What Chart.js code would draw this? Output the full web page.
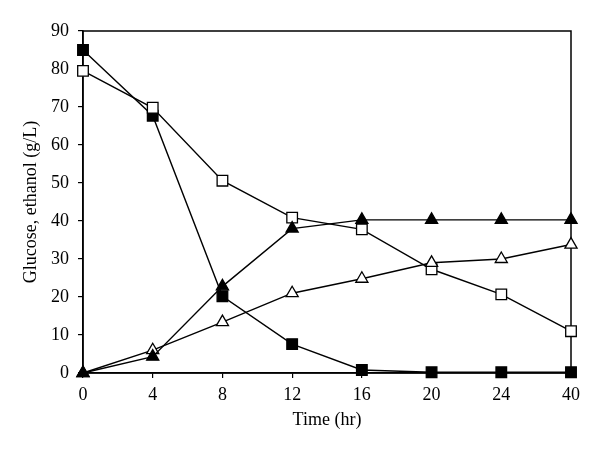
<!DOCTYPE html>
<html>
<head>
<meta charset="utf-8">
<script src="https://cdn.jsdelivr.net/npm/chart.js@4/dist/chart.umd.min.js"></script>
<style>
  html, body { margin: 0; padding: 0; background: #fff; }
  #wrap { width: 600px; height: 453px; }
</style>
</head>
<body>
<div id="wrap"><canvas id="chart" width="600" height="453"></canvas></div>
<script>
// time points (hr), shown as evenly spaced categories
const times = ['0', '4', '8', '12', '16', '20', '24', '40'];
const yTicks = [0, 10, 20, 30, 40, 50, 60, 70, 80, 90];

// glucose (filled / open squares), ethanol (filled / open triangles)
const glucoseA = [85, 67.7, 20.2, 7.6, 0.8, 0.2, 0.2, 0.2];
const glucoseB = [79.5, 69.8, 50.6, 40.9, 37.8, 27.3, 20.7, 11];
const ethanolA = [0, 4.3, 22.8, 38, 40.3, 40.3, 40.3, 40.3];
const ethanolB = [0, 6, 13.4, 21, 24.8, 29, 30, 33.8];

const serif = 'Liberation Serif';

function series(data, style, fill, radius) {
  return {
    data: data,
    borderColor: '#000',
    borderWidth: 1.4,
    pointStyle: style,
    pointRadius: radius,
    pointBackgroundColor: fill,
    pointBorderColor: '#000',
    pointBorderWidth: 1.3,
    tension: 0,
    clip: false
  };
}

// box around the plot (top and right edges)
const frame = {
  id: 'frame',
  beforeDatasetsDraw(chart) {
    const a = chart.chartArea;
    const ctx = chart.ctx;
    ctx.save();
    ctx.strokeStyle = '#000';
    ctx.lineWidth = 1.5;
    ctx.strokeRect(a.left, a.top, a.right - a.left, a.bottom - a.top);
    ctx.restore();
  }
};

// first dataset is drawn on top
new Chart(document.getElementById('chart'), {
  type: 'line',
  data: {
    labels: times,
    datasets: [
      series(ethanolA, 'triangle', '#000', 7),
      series(ethanolB, 'triangle', '#fff', 7),
      series(glucoseB, 'rect', '#fff', 7.5),
      series(glucoseA, 'rect', '#000', 7.5)
    ]
  },
  options: {
    responsive: false,
    animation: false,
    layout: { padding: { top: 31, right: 29, left: 0, bottom: 0 } },
    plugins: { legend: { display: false }, tooltip: { enabled: false } },
    scales: {
      x: {
        offset: false,
        afterFit(s) { s.height = 80; },
        grid: { display: true, drawOnChartArea: false, drawTicks: true, tickLength: 5, color: '#000', lineWidth: 1.2 },
        border: { display: true, color: '#000', width: 1.5 },
        ticks: { color: '#000', padding: 6, maxRotation: 0, font: { family: serif, size: 18 } },
        title: { display: true, text: 'Time (hr)', color: '#000', padding: { bottom: 22 }, font: { family: serif, size: 18 } }
      },
      y: {
        min: 0,
        max: 90,
        afterFit(s) { s.width = 83; },
        afterBuildTicks(s) { s.ticks = yTicks.map(v => ({ value: v })); },
        grid: { display: true, drawOnChartArea: false, drawTicks: true, tickLength: 5, color: '#000', lineWidth: 1.2 },
        border: { display: true, color: '#000', width: 1.5 },
        ticks: { color: '#000', padding: 9, font: { family: serif, size: 18 } },
        title: { display: true, text: 'Glucose, ethanol (g/L)', color: '#000', padding: { top: 20 }, font: { family: serif, size: 18 } }
      }
    }
  },
  plugins: [frame]
});
</script>
</body>
</html>
